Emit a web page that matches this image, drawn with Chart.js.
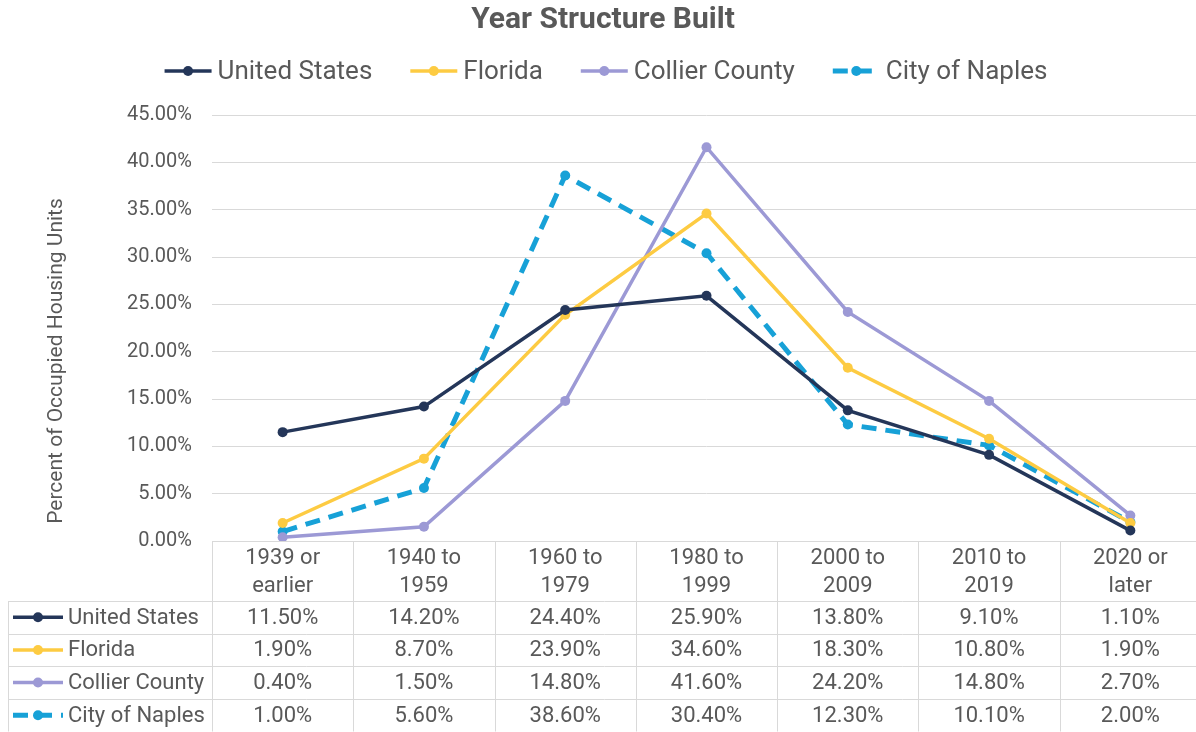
<!DOCTYPE html>
<html>
<head>
<meta charset="utf-8">
<script src="https://cdn.jsdelivr.net/npm/chart.js@4.4.1/dist/chart.umd.min.js"></script>
<style>
	html, body { margin: 0; padding: 0; background: #fff; overflow: hidden; }
	canvas { display: block; }
</style>
</head>
<body>
<canvas id="chart" width="1206" height="732"></canvas>
<script>
const categories = [
	['1939 or', 'earlier'],
	['1940 to', '1959'],
	['1960 to', '1979'],
	['1980 to', '1999'],
	['2000 to', '2009'],
	['2010 to', '2019'],
	['2020 or', 'later'],
];
const unitedStates = [11.5, 14.2, 24.4, 25.9, 13.8, 9.1, 1.1];
const florida = [1.9, 8.7, 23.9, 34.6, 18.3, 10.8, 1.9];
const collierCounty = [0.4, 1.5, 14.8, 41.6, 24.2, 14.8, 2.7];
const cityOfNaples = [1.0, 5.6, 38.6, 30.4, 12.3, 10.1, 2.0];

const TEXT = '#595959';
const GRID = '#d9d9d9';
const FONT = 'Roboto';

Chart.defaults.font.family = FONT;
Chart.defaults.color = TEXT;

function series(label, data, color, dashed) {
	return {
		label,
		data,
		borderColor: color,
		backgroundColor: color,
		pointBackgroundColor: color,
		pointBorderColor: color,
		borderWidth: dashed ? 5 : 3.5,
		borderDash: dashed ? [15, 9] : [],
		pointRadius: 5,
		pointHoverRadius: 5,
		pointBorderWidth: 0,
		tension: 0,
	};
}

// little line + dot key, used by the legend and the table
function drawKey(ctx, ds, x, y, w) {
	ctx.save();
	ctx.strokeStyle = ds.borderColor;
	ctx.lineWidth = ds.borderWidth;
	ctx.setLineDash(ds.borderDash || []);
	ctx.beginPath();
	ctx.moveTo(x, y);
	ctx.lineTo(x + w, y);
	ctx.stroke();
	ctx.setLineDash([]);
	ctx.fillStyle = ds.borderColor;
	ctx.beginPath();
	ctx.arc(x + w / 2, y, 5, 0, Math.PI * 2);
	ctx.fill();
	ctx.restore();
}

const legendAndTable = {
	id: 'legendAndTable',
	afterDraw(chart) {
		const { ctx, scales, chartArea } = chart;
		const xs = scales.x;
		const datasets = chart.data.datasets;

		// legend
		ctx.save();
		ctx.font = `26px ${FONT}`;
		ctx.textBaseline = 'middle';
		ctx.fillStyle = TEXT;
		const keyW = 47, keyGap = 6, itemGap = 38;
		const widths = datasets.map(d => keyW + keyGap + ctx.measureText(d.label).width);
		const total = widths.reduce((a, b) => a + b, 0) + itemGap * (datasets.length - 1);
		let lx = 606 - total / 2;
		const ly = 71;
		datasets.forEach((d, i) => {
			drawKey(ctx, d, lx, ly, keyW);
			ctx.fillText(d.label, lx + keyW + keyGap, ly + 1);
			lx += widths[i] + itemGap;
		});
		ctx.restore();

		// y axis title
		ctx.save();
		ctx.font = `21px ${FONT}`;
		ctx.fillStyle = TEXT;
		ctx.textAlign = 'center';
		ctx.textBaseline = 'middle';
		ctx.translate(57, 361);
		ctx.rotate(-Math.PI / 2);
		ctx.fillText('Percent of Occupied Housing Units', 0, 0);
		ctx.restore();

		// data table
		const step = xs.getPixelForValue(1) - xs.getPixelForValue(0);
		const left = 8;
		const right = chartArea.right;
		const headTop = chartArea.bottom;
		const rowsTop = xs.bottom;
		const bottom = chart.height - 0.5;
		const rowH = (bottom - rowsTop) / datasets.length;

		ctx.save();
		ctx.strokeStyle = GRID;
		ctx.lineWidth = 1;
		ctx.beginPath();
		for (let i = 0; i <= categories.length; i++) {
			const bx = Math.round(xs.getPixelForValue(i) - step / 2) + 0.5;
			ctx.moveTo(bx, headTop);
			ctx.lineTo(bx, bottom);
		}
		ctx.moveTo(left + 0.5, rowsTop);
		ctx.lineTo(left + 0.5, bottom);
		for (let r = 0; r <= datasets.length; r++) {
			const by = Math.round(rowsTop + r * rowH) + 0.5;
			ctx.moveTo(left, by);
			ctx.lineTo(right, by);
		}
		ctx.stroke();

		ctx.font = `22px ${FONT}`;
		ctx.fillStyle = TEXT;
		ctx.textBaseline = 'middle';
		datasets.forEach((d, r) => {
			const cy = rowsTop + r * rowH + rowH / 2;
			drawKey(ctx, d, left + 5, cy, 50);
			ctx.textAlign = 'left';
			ctx.fillText(d.label, left + 60, cy + 1);
			ctx.textAlign = 'center';
			d.data.forEach((v, i) => {
				ctx.fillText(v.toFixed(2) + '%', xs.getPixelForValue(i), cy + 1);
			});
		});
		ctx.restore();
	},
};

new Chart(document.getElementById('chart'), {
	type: 'line',
	data: {
		labels: categories,
		datasets: [
			series('United States', unitedStates, '#243659', false),
			series('Florida', florida, '#fdcb42', false),
			series('Collier County', collierCounty, '#9c99d5', false),
			series('City of Naples', cityOfNaples, '#17a1d7', true),
		],
	},
	options: {
		responsive: false,
		animation: false,
		layout: {
			padding: { left: 0, right: 0, top: 0, bottom: 131 },
		},
		plugins: {
			legend: { display: false },
			tooltip: { enabled: false },
			title: {
				display: true,
				text: 'Year Structure Built',
				color: TEXT,
				font: { size: 30, weight: 'bold' },
				padding: { top: 2, bottom: 77 },
			},
		},
		scales: {
			x: {
				offset: true,
				grid: { display: false, drawTicks: false },
				border: { display: false },
				ticks: {
					color: TEXT,
					font: { size: 22, lineHeight: 1.27 },
					padding: 4,
					maxRotation: 0,
					autoSkip: false,
				},
				afterFit: (s) => { s.height = 60; },
			},
			y: {
				min: 0,
				max: 45,
				grid: { color: GRID, lineWidth: 1, drawTicks: false },
				border: { display: false },
				ticks: {
					stepSize: 5,
					color: TEXT,
					font: { size: 20 },
					padding: 20,
					callback: (v) => v.toFixed(2) + '%',
				},
				afterFit: (s) => { s.width = 212; },
			},
		},
	},
	plugins: [legendAndTable],
});
</script>
</body>
</html>
